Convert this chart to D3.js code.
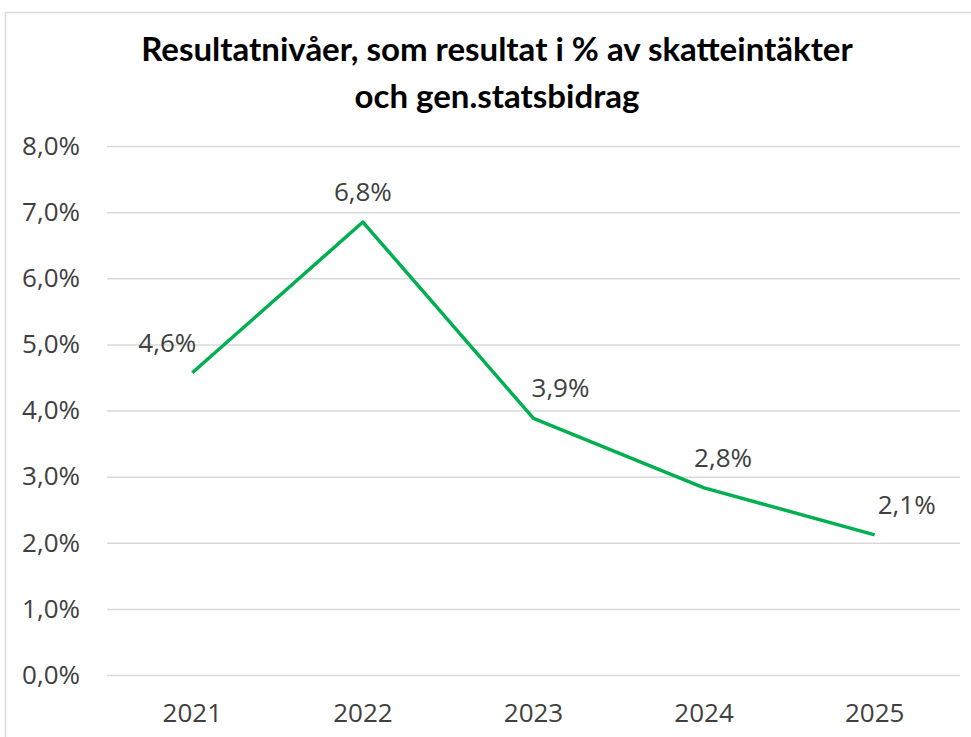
<!DOCTYPE html>
<html>
<head>
<meta charset="utf-8">
<script src="https://cdn.jsdelivr.net/npm/d3@7"></script>
<style>
  body { margin: 0; background: #fff; }
  svg { display: block; }
</style>
</head>
<body>
<div id="chart"></div>
<script>
// chart data
const years = ["2021", "2022", "2023", "2024", "2025"];
const resultPct = [4.57, 6.85, 3.88, 2.83, 2.12];
const yTicks = [0, 1, 2, 3, 4, 5, 6, 7, 8];
const titleLines = ["Resultatnivåer, som resultat i % av skatteintäkter", "och gen.statsbidrag"];
// label nudges (px) relative to each point, as placed in the original
const labelDx = [-25, 0, 27, 19, 32];

const W = 971, H = 737;
const margin = { top: 146, right: 11, bottom: 62, left: 107 };
const labelFont = "'Open Sans', sans-serif";

const svg = d3.select("#chart").append("svg")
  .attr("width", W)
  .attr("height", H);

// outer chart frame (only top/left visible in crop)
svg.append("rect")
  .attr("x", 5.5).attr("y", 12.5)
  .attr("width", W + 20).attr("height", H + 20)
  .attr("fill", "#fff")
  .attr("stroke", "#d9d9d9")
  .attr("stroke-width", 1.5);

const fmt = v => v.toFixed(1).replace(".", ",") + "%";

const x = d3.scaleBand()
  .domain(years)
  .range([margin.left, W - margin.right]);

const y = d3.scaleLinear()
  .domain([0, 8])
  .range([H - margin.bottom, margin.top]);

// title
svg.append("text")
  .attr("text-anchor", "middle")
  .style("font-family", "Lato, 'Open Sans', sans-serif")
  .style("font-weight", "bold")
  .style("font-size", "33px")
  .style("fill", "#000")
  .selectAll("tspan")
  .data(titleLines)
  .enter().append("tspan")
  .attr("x", 497)
  .attr("y", (d, i) => 61 + i * 47)
  .text(d => d);

// grid lines
svg.append("g")
  .attr("class", "grid")
  .attr("transform", `translate(${margin.left},0)`)
  .call(d3.axisLeft(y).tickValues(yTicks).tickSize(-(W - margin.left - margin.right)).tickFormat(""))
  .call(g => g.select(".domain").remove())
  .selectAll("line")
  .style("stroke", "#d9d9d9")
  .style("stroke-width", 1.5);

// y axis labels
svg.append("g")
  .attr("class", "y-axis")
  .attr("transform", `translate(${margin.left - 27},0)`)
  .call(d3.axisLeft(y).tickValues(yTicks).tickSize(0).tickPadding(0).tickFormat(d => fmt(d)))
  .call(g => g.select(".domain").remove())
  .selectAll("text")
  .style("font-family", labelFont)
  .style("font-size", "26px")
  .style("fill", "#404040");

// x axis labels
svg.append("g")
  .attr("class", "x-axis")
  .attr("transform", `translate(0,${H - margin.bottom + 26})`)
  .call(d3.axisBottom(x).tickSize(0))
  .call(g => g.select(".domain").remove())
  .selectAll("text")
  .style("font-family", labelFont)
  .style("font-size", "26px")
  .style("fill", "#404040");

const points = years.map((yr, i) => ({ year: yr, value: resultPct[i], dx: labelDx[i] }));

const line = d3.line()
  .x(d => x(d.year) + x.bandwidth() / 2)
  .y(d => y(d.value));

svg.append("path")
  .datum(points)
  .attr("fill", "none")
  .attr("stroke", "#00b050")
  .attr("stroke-width", 3.5)
  .attr("stroke-linejoin", "round")
  .attr("d", line);

// data labels
svg.selectAll(".label")
  .data(points)
  .enter().append("text")
  .attr("class", "label")
  .attr("x", d => x(d.year) + x.bandwidth() / 2 + d.dx)
  .attr("y", d => y(d.value) - 21)
  .attr("text-anchor", "middle")
  .style("font-family", labelFont)
  .style("font-size", "26px")
  .style("fill", "#404040")
  .text(d => fmt(d.value));
</script>
</body>
</html>
